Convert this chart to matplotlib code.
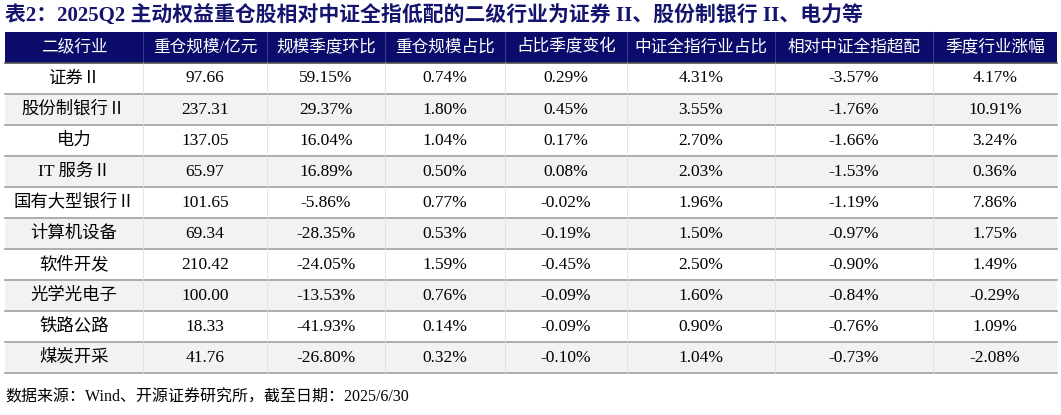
import matplotlib
matplotlib.use("Agg")
import matplotlib.pyplot as plt
from matplotlib.patches import Rectangle

title = "表2：2025Q2 主动权益重仓股相对中证全指低配的二级行业为证券 II、股份制银行 II、电力等"
headers = ["二级行业", "重仓规模/亿元", "规模季度环比", "重仓规模占比", "占比季度变化", "中证全指行业占比", "相对中证全指超配", "季度行业涨幅"]
industries = ["证券Ⅱ", "股份制银行Ⅱ", "电力", "IT 服务Ⅱ", "国有大型银行Ⅱ", "计算机设备", "软件开发", "光学光电子", "铁路公路", "煤炭开采"]
scale = ["97.66", "237.31", "137.05", "65.97", "101.65", "69.34", "210.42", "100.00", "18.33", "41.76"]
scale_qoq = ["59.15%", "29.37%", "16.04%", "16.89%", "-5.86%", "-28.35%", "-24.05%", "-13.53%", "-41.93%", "-26.80%"]
share = ["0.74%", "1.80%", "1.04%", "0.50%", "0.77%", "0.53%", "1.59%", "0.76%", "0.14%", "0.32%"]
share_chg = ["0.29%", "0.45%", "0.17%", "0.08%", "-0.02%", "-0.19%", "-0.45%", "-0.09%", "-0.09%", "-0.10%"]
index_share = ["4.31%", "3.55%", "2.70%", "2.03%", "1.96%", "1.50%", "2.50%", "1.60%", "0.90%", "1.04%"]
overweight = ["-3.57%", "-1.76%", "-1.66%", "-1.53%", "-1.19%", "-0.97%", "-0.90%", "-0.84%", "-0.76%", "-0.73%"]
ret = ["4.17%", "10.91%", "3.24%", "0.36%", "7.86%", "1.75%", "1.49%", "-0.29%", "1.09%", "-2.08%"]
source = "数据来源：Wind、开源证券研究所，截至日期：2025/6/30"

cols = [industries, scale, scale_qoq, share, share_chg, index_share, overweight, ret]
bounds = [5, 143, 267, 385, 505, 627, 775, 933, 1057]

W, H = 1061, 415
fig = plt.figure(figsize=(W/100, H/100), dpi=100)
ax = fig.add_axes([0, 0, 1, 1])
ax.set_xlim(0, W); ax.set_ylim(H, 0); ax.axis("off")
fam = ["Liberation Serif", "Noto Sans CJK SC"]
navy = "#0B0B6B"

ax.text(5, 16, title, fontsize=15, fontweight="bold", color="#14146E", va="center", ha="left", family=fam)
top, hh, rh = 32, 31, 31
ax.add_patch(Rectangle((bounds[0], top), bounds[-1]-bounds[0], hh, color=navy, lw=0))
for i, h in enumerate(headers):
    cx = (bounds[i]+bounds[i+1])/2
    ax.text(cx, top+hh/2, h, color="white", fontsize=12, ha="center", va="center", family=fam)
    if i > 0:
        ax.plot([bounds[i]]*2, [top, top+hh], color="#3A3A8A", lw=0.8)
y0 = top+hh
ax.plot([bounds[0], bounds[-1]], [y0, y0], color="#555555", lw=1.2)
for r in range(len(industries)):
    y = y0 + r*rh
    ax.add_patch(Rectangle((bounds[0], y), bounds[-1]-bounds[0], rh, color="white" if r % 2 == 0 else "#F2F2F2", lw=0))
    ax.plot([bounds[0], bounds[-1]], [y+rh, y+rh], color="#A0A0A0", lw=1.2)
    for i, c in enumerate(cols):
        cx = (bounds[i]+bounds[i+1])/2
        ax.text(cx, y+rh/2, c[r], color="black", fontsize=12.5, ha="center", va="center", family=fam)
for i in range(1, len(bounds)-1):
    ax.plot([bounds[i]]*2, [y0, y0+rh*len(industries)], color="#E0E0E0", lw=0.6)
ax.text(5, 398, source, fontsize=11.5, ha="left", va="center", family=fam)
fig.savefig("out.png", dpi=100)
